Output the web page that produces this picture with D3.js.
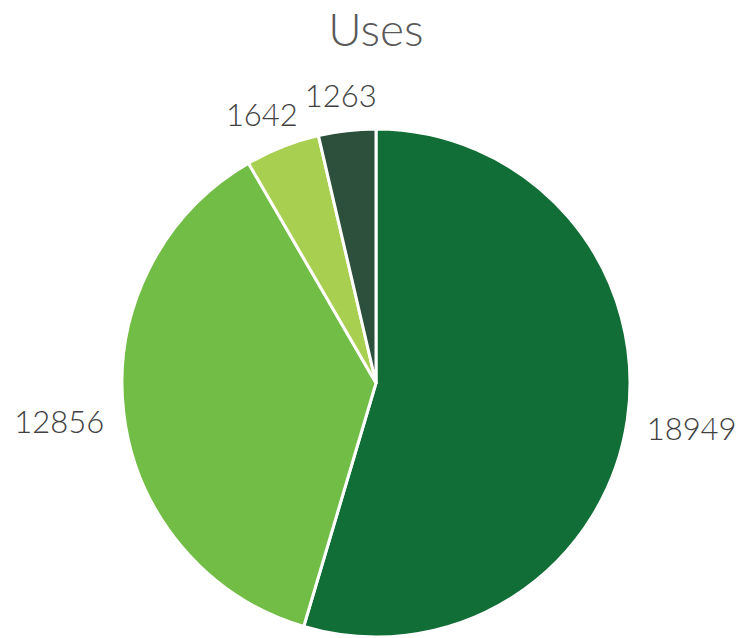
<!DOCTYPE html>
<html>
<head>
<meta charset="utf-8">
<script src="https://cdn.jsdelivr.net/npm/d3@7"></script>
<style>
  body { margin: 0; background: #fff; }
  svg { display: block; }
</style>
</head>
<body>
<div id="chart"></div>
<script>
const title = "Uses";
const categories = ["A", "B", "C", "D"];
const values = [18949, 12856, 1642, 1263];
const colors = ["#116e37", "#72bd45", "#a9cf51", "#2d503c"];

const width = 741;
const height = 638;
const cx = 376;
const cy = 383;
const radius = 254;
const labelRadius = 274;
const fontFamily = "Lato, 'Open Sans', sans-serif";

const data = categories.map((c, i) => ({ cat: c, value: values[i], color: colors[i] }));

const svg = d3
  .select("#chart")
  .append("svg")
  .attr("width", width)
  .attr("height", height)
  .attr("viewBox", [0, 0, width, height]);

svg.append("text")
  .attr("x", cx)
  .attr("y", 46)
  .attr("text-anchor", "middle")
  .attr("font-family", fontFamily)
  .attr("font-weight", 300)
  .attr("font-size", 46)
  .attr("fill", "#595959")
  .text(title);

const pie = d3.pie().sort(null).value((d) => d.value);
const arc = d3.arc().innerRadius(0).outerRadius(radius);
const arcs = pie(data);

const g = svg.append("g").attr("transform", `translate(${cx},${cy})`);

g.selectAll("path")
  .data(arcs)
  .join("path")
  .attr("d", arc)
  .attr("fill", (d) => d.data.color)
  .attr("stroke", "#fff")
  .attr("stroke-width", 3)
  .attr("stroke-linejoin", "round");

// labels: box pushed outward from a point just outside the rim
const labels = g.selectAll("text.lbl")
  .data(arcs)
  .join("text")
  .attr("class", "lbl")
  .attr("font-family", fontFamily)
  .attr("font-weight", 300)
  .attr("font-size", 31)
  .attr("fill", "#404040")
  .attr("text-anchor", "middle")
  .attr("dominant-baseline", "central")
  .text((d) => d.data.value);

labels.each(function (d) {
  const a = (d.startAngle + d.endAngle) / 2;
  const s = Math.sin(a), c = Math.cos(a);
  const bb = this.getBBox();
  const x = labelRadius * s + (s * bb.width) / 2;
  const y = -labelRadius * c - (c * bb.height) / 2 + 3;
  d3.select(this).attr("x", x).attr("y", y);
});
</script>
</body>
</html>
